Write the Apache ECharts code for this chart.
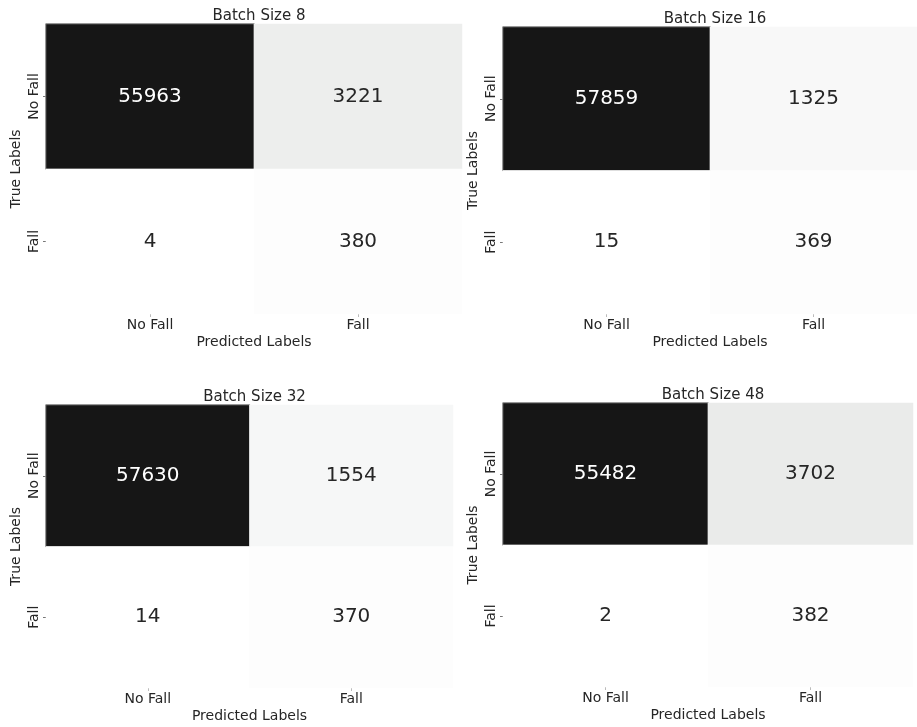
<!DOCTYPE html>
<html>
<head>
<meta charset="utf-8">
<style>
  html, body { margin: 0; padding: 0; background: #ffffff; }
  #chart { width: 917px; height: 727px; }
</style>
<script src="https://cdn.jsdelivr.net/npm/echarts@6/dist/echarts.min.js"></script>
</head>
<body>
<div id="chart"></div>
<script>
// Class labels shared by both axes of every confusion matrix
const categories = ['No Fall', 'Fall'];

// Panel titles
const panelTitles = ['Batch Size 8', 'Batch Size 16', 'Batch Size 32', 'Batch Size 48'];

// Confusion matrices: rows = true label, columns = predicted label
const matrixBatch8  = [[55963, 3221], [4, 380]];
const matrixBatch16 = [[57859, 1325], [15, 369]];
const matrixBatch32 = [[57630, 1554], [14, 370]];
const matrixBatch48 = [[55482, 3702], [2, 382]];

const xAxisName = 'Predicted Labels';
const yAxisName = 'True Labels';

const matrices = [matrixBatch8, matrixBatch16, matrixBatch32, matrixBatch48];

// Plot areas of the 2x2 layout
const gridBoxes = [
  { left: 46,  top: 24,  width: 416, height: 290 },
  { left: 503, top: 27,  width: 414, height: 287 },
  { left: 46,  top: 405, width: 407, height: 283 },
  { left: 503, top: 403, width: 410, height: 284 }
];

const FONT = 'DejaVu Sans';
const TEXT = '#262626';

// Grey ramp, steeper near white like a "Greys" colormap
const greyRamp = ['#ffffff', '#dfe1e0', '#c4c4c4', '#a9a9a9', '#8e8e8e', '#747474',
                  '#5f5f5f', '#4b4b4b', '#383838', '#272727', '#161616'];

const option = {
  backgroundColor: '#ffffff',
  animation: false,
  title: [],
  grid: [],
  xAxis: [],
  yAxis: [],
  visualMap: [],
  series: []
};

matrices.forEach((m, i) => {
  const box = gridBoxes[i];
  const flat = m.flat();
  const vmin = Math.min(...flat);
  const vmax = Math.max(...flat);

  option.title.push({
    text: panelTitles[i],
    left: box.left + box.width / 2,
    top: box.top - 20,
    textAlign: 'center',
    textStyle: { fontFamily: FONT, fontSize: 15, fontWeight: 'normal', color: TEXT }
  });

  option.grid.push({ left: box.left, top: box.top, width: box.width, height: box.height });

  option.xAxis.push({
    type: 'category',
    gridIndex: i,
    data: categories,
    position: 'bottom',
    name: xAxisName,
    nameLocation: 'middle',
    nameGap: 21,
    nameTextStyle: { fontFamily: FONT, fontSize: 14, color: TEXT },
    axisLine: { show: false },
    axisTick: { show: true, alignWithLabel: true, length: 3, lineStyle: { color: '#aaaaaa', width: 0.8 } },
    axisLabel: { fontFamily: FONT, fontSize: 14, color: TEXT, margin: 4 },
    splitLine: { show: false }
  });

  option.yAxis.push({
    type: 'category',
    gridIndex: i,
    data: categories,
    inverse: true,
    name: yAxisName,
    nameLocation: 'middle',
    nameGap: 23,
    nameTextStyle: { fontFamily: FONT, fontSize: 14, color: TEXT },
    axisLine: { show: false },
    axisTick: { show: true, alignWithLabel: true, length: 3, lineStyle: { color: '#555555', width: 0.8 } },
    axisLabel: { fontFamily: FONT, fontSize: 14, color: TEXT, rotate: 90, margin: 5 },
    splitLine: { show: false }
  });

  option.visualMap.push({
    show: false,
    type: 'continuous',
    seriesIndex: i,
    dimension: 2,
    min: vmin,
    max: vmax,
    inRange: { color: greyRamp }
  });

  const data = [];
  m.forEach((row, r) => {
    row.forEach((v, c) => {
      const dark = v > (vmin + vmax) / 2;
      data.push({
        value: [c, r, v],
        label: { color: dark ? '#ffffff' : TEXT },
        itemStyle: dark ? { borderColor: '#8a8a8a', borderWidth: 1 } : { borderWidth: 0 }
      });
    });
  });

  option.series.push({
    type: 'heatmap',
    xAxisIndex: i,
    yAxisIndex: i,
    data: data,
    label: {
      show: true,
      fontFamily: FONT,
      fontSize: 20,
      formatter: p => String(p.value[2])
    },
    emphasis: { disabled: true }
  });
});

const chart = echarts.init(document.getElementById('chart'), null, { renderer: 'canvas' });
chart.setOption(option);
</script>
</body>
</html>
